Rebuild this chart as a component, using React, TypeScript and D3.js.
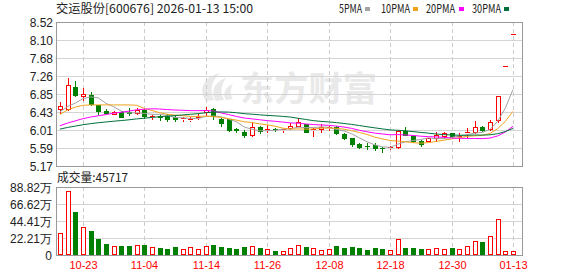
import React from "react";
import * as d3 from "d3";

// ---------- data ----------
const dates = [
  "10-20","10-21","10-22","10-23","10-24","10-27","10-28","10-29","10-30","10-31",
  "11-03","11-04","11-05","11-06","11-07","11-10","11-11","11-12","11-13","11-14",
  "11-17","11-18","11-19","11-20","11-21","11-24","11-25","11-26","11-27","11-28",
  "12-01","12-02","12-03","12-04","12-05","12-08","12-09","12-10","12-11","12-12",
  "12-15","12-16","12-17","12-18","12-19","12-22","12-23","12-24","12-25","12-26",
  "12-29","12-30","12-31","01-05","01-06","01-07","01-08","01-09","01-12","01-13",
];
const opens = [
  6.49,6.50,7.00,6.80,6.82,6.59,6.46,6.39,6.43,6.42,
  6.41,6.48,6.31,6.34,6.33,6.32,6.26,6.25,6.29,6.42,
  6.50,6.26,6.26,6.02,5.96,5.88,6.08,6.00,6.03,6.00,
  6.05,6.11,6.14,6.00,6.02,6.05,6.08,5.91,5.81,5.68,
  5.64,5.66,5.59,5.60,5.62,5.98,5.86,5.76,5.75,5.81,
  5.87,5.93,5.84,5.93,5.95,6.08,6.02,6.23,7.49,8.24,
];
const highs = [
  6.65,7.21,7.15,6.98,6.90,6.60,6.49,6.44,6.45,6.53,
  6.53,6.49,6.36,6.37,6.37,6.36,6.30,6.30,6.37,6.55,
  6.51,6.29,6.27,6.06,6.00,6.20,6.09,6.12,6.06,6.04,
  6.16,6.28,6.15,6.05,6.14,6.11,6.09,5.93,5.83,5.70,
  5.70,5.70,5.62,5.64,6.00,6.08,5.87,5.77,5.83,5.95,
  5.95,5.94,5.93,6.05,6.22,6.10,6.24,6.81,7.49,8.24,
];
const lows = [
  6.40,6.47,6.80,6.71,6.59,6.38,6.38,6.38,6.30,6.36,
  6.37,6.29,6.26,6.24,6.21,6.22,6.22,6.22,6.26,6.36,
  6.26,6.11,5.99,5.97,5.84,5.87,5.94,5.95,5.99,5.97,
  6.04,6.09,5.96,5.86,5.97,6.01,5.92,5.80,5.64,5.58,
  5.57,5.55,5.49,5.57,5.60,5.88,5.72,5.64,5.74,5.74,
  5.85,5.84,5.76,5.85,5.94,5.99,6.00,6.20,7.49,8.24,
];
const closes = [
  6.57,7.05,6.82,6.84,6.61,6.46,6.41,6.43,6.32,6.40,
  6.48,6.33,6.33,6.32,6.26,6.26,6.28,6.27,6.31,6.48,
  6.33,6.17,6.01,6.00,5.88,6.07,5.99,6.02,6.02,6.03,
  6.10,6.20,5.97,6.03,6.08,6.08,5.94,5.81,5.68,5.61,
  5.63,5.58,5.58,5.62,5.98,5.90,5.74,5.69,5.81,5.88,
  5.93,5.86,5.86,5.96,6.07,6.01,6.19,6.81,7.49,8.24,
];
// closes of the 29 sessions before the window, estimated from where the MA lines start
const closesBeforeWindow = [
  5.86,5.90,5.88,5.85,5.83,5.87,5.89,5.86,5.88,5.85,
  5.83,5.80,5.82,5.85,5.86,5.84,5.83,5.87,5.86,5.88,
  6.05,6.12,6.44,6.51,6.46,6.41,6.43,6.32,6.40,
];
const volumes = [
  283000,836000,566000,366000,313000,209000,144000,118000,118000,118000,
  126000,130000,104000,91000,78000,100000,78000,100000,78000,113000,
  130000,109000,91000,83000,104000,118000,91000,78000,52000,48000,
  87000,130000,109000,87000,61000,74000,122000,91000,104000,91000,
  61000,91000,83000,61000,205000,91000,91000,78000,74000,87000,
  74000,91000,74000,122000,187000,165000,244000,466000,56000,45717,
];
const priceTickLabels = ["5.17","5.59","6.01","6.43","6.85","7.26","7.68","8.10","8.52"];
const volumeTicks = [0, 222050, 444100, 666150, 888200];
const volumeTickLabels = ["0","22.21万","44.41万","66.62万","88.82万"];
const axisDates = ["10-23","11-04","11-14","11-26","12-08","12-18","12-30","01-13"];
const maPeriods = [5, 10, 20, 30];
const maNames = ["5PMA", "10PMA", "20PMA", "30PMA"];
const maColors = ["#a3a3a3", "#f2a31c", "#ff00ff", "#00703c"];
const titleText = "交运股份[600676] 2026-01-13 15:00";
const volumeTitle = "成交量:45717";

const RED = "#ff0000";
const GREEN = "#008000";

export default function App() {
  const left = 56, right = 522;
  const pTop = 22, pBot = 166;
  const vTop = 187, vBot = 255;
  const step = 7.68;
  const n = dates.length;

  const x = d3.scaleBand<string>().domain(dates).range([left, left + step * n]);
  const cx = (i: number) => (x(dates[i]) as number) + x.bandwidth() / 2;
  const yP = d3.scaleLinear().domain([5.17, 8.52]).range([pBot, pTop]);
  const yV = d3.scaleLinear().domain([0, 888200]).range([vBot, vTop]);

  const allCloses = [...closesBeforeWindow, ...closes];
  const off = closesBeforeWindow.length;
  const maSeries = maPeriods.map((p) =>
    closes.map((_, i) => d3.mean(allCloses.slice(off + i - p + 1, off + i + 1)) as number)
  );
  const line = d3
    .line<number>()
    .x((_, i) => cx(i))
    .y((d) => yP(d));

  const sansCJK = "'Noto Sans CJK SC', 'Noto Sans', sans-serif";
  const sans = "'Liberation Sans', Arial, sans-serif";
  const isUp = (i: number) => closes[i] >= opens[i];

  const candles = dates.map((d, i) => {
    const c = Math.round(cx(i));
    const col = isUp(i) ? RED : GREEN;
    const yH = Math.round(yP(highs[i]));
    const yL = Math.round(yP(lows[i]));
    const yTopB = Math.round(yP(Math.max(opens[i], closes[i])));
    const yBotB = Math.round(yP(Math.min(opens[i], closes[i])));
    const wx = c + 0.5;
    if (highs[i] === lows[i]) {
      return <line key={d} x1={c - 2} x2={c + 3} y1={yH + 0.5} y2={yH + 0.5} stroke={col} strokeWidth={1} />;
    }
    const h = yBotB - yTopB;
    if (isUp(i)) {
      return (
        <g key={d}>
          <line x1={wx} x2={wx} y1={yH} y2={yTopB} stroke={col} />
          <line x1={wx} x2={wx} y1={yBotB + 1} y2={yL + 1} stroke={col} />
          {h >= 2 ? (
            <rect x={c - 1.5} y={yTopB + 0.5} width={4} height={h} fill="#fff" stroke={col} />
          ) : (
            <line x1={c - 2} x2={c + 3} y1={yTopB + 0.5} y2={yTopB + 0.5} stroke={col} />
          )}
        </g>
      );
    }
    return (
      <g key={d}>
        <line x1={wx} x2={wx} y1={yH} y2={yL + 1} stroke={col} />
        <rect x={c - 2} y={yTopB} width={5} height={Math.max(1, h + 1)} fill={col} />
      </g>
    );
  });

  const volBars = dates.map((d, i) => {
    const c = Math.round(cx(i));
    const yT = Math.round(yV(volumes[i]));
    const h = vBot - yT;
    if (isUp(i)) {
      return <rect key={d} x={c - 1.5} y={yT + 0.5} width={4} height={Math.max(0, h - 1)} fill="#fff" stroke={RED} />;
    }
    return <rect key={d} x={c - 2} y={yT} width={5} height={h} fill={GREEN} />;
  });

  const gridIdx = axisDates.map((d) => dates.indexOf(d));
  const legendX = [339, 381, 426, 472];
  const legendW = [23, 29, 29, 29];
  const legendSq = [365, 413, 459, 504];

  return (
    <svg
      width={578}
      height={276}
      style={{ position: "absolute", left: 0, top: 0, background: "#fff" }}
      shapeRendering="crispEdges"
    >
      <rect x={0} y={0} width={578} height={276} fill="#fff" />
      {/* title & legend */}
      <text x={56} y={13} fontFamily={sansCJK} fontSize={12} fill="#222" textLength={197} lengthAdjust="spacingAndGlyphs">
        {titleText}
      </text>
      {maNames.map((nm, k) => (
        <g key={nm}>
          <text x={legendX[k]} y={13} fontFamily={sansCJK} fontSize={12} fill="#222" textLength={legendW[k]} lengthAdjust="spacingAndGlyphs">
            {nm}
          </text>
          <rect x={legendSq[k]} y={7} width={5} height={4} fill={maColors[k]} />
        </g>
      ))}

      {/* watermark */}
      <g fill="#e9e9e9" shapeRendering="auto">
        <path d="M206,101 C198,90 203,77 220,73 C212,80 209,90 214,100 Z" />
        <path d="M216,101 C210,92 214,82 226,78 C221,85 220,93 224,100 Z" />
        <path d="M226,100 C222,94 225,87 233,84 C230,89 230,95 233,99 Z" />
        <text x={240} y={101} fontFamily={sansCJK} fontWeight={700} fontSize={34} textLength={137} lengthAdjust="spacingAndGlyphs">
          东方财富
        </text>
      </g>

      {/* price grid */}
      {priceTickLabels.map((t) => {
        const yy = Math.round(yP(+t)) + 0.5;
        return (
          <g key={t}>
            <line x1={left} x2={right} y1={yy} y2={yy} stroke="#d4d4d4" />
            <text x={53} y={yy + 4} textAnchor="end" fontFamily={sans} fontSize={12} fill="#222">
              {t}
            </text>
          </g>
        );
      })}
      {/* volume grid */}
      {volumeTicks.map((v, k) => {
        const yy = Math.round(yV(v)) + 0.5;
        return (
          <g key={v}>
            <line x1={left} x2={right} y1={yy} y2={yy} stroke="#d4d4d4" />
            <text x={52} y={yy + 4} textAnchor="end" fontFamily={sans} fontSize={12} fill="#222">
              {volumeTickLabels[k]}
            </text>
          </g>
        );
      })}
      {/* vertical dashed date grid + labels */}
      {gridIdx.map((i, k) => {
        const xx = Math.round(cx(i)) + 0.5;
        return (
          <g key={axisDates[k]}>
            <line x1={xx} x2={xx} y1={pTop} y2={pBot} stroke="#cccccc" strokeDasharray="4,3" />
            <line x1={xx} x2={xx} y1={vTop} y2={vBot} stroke="#cccccc" strokeDasharray="4,3" />
            <text x={xx} y={269} textAnchor="middle" fontFamily={sans} fontSize={11} fill={RED}>
              {axisDates[k]}
            </text>
          </g>
        );
      })}

      {/* candles */}
      {candles}
      {/* moving averages */}
      <g shapeRendering="auto">
        {maSeries.map((s, k) => (
          <path key={maNames[k]} d={line(s) || ""} fill="none" stroke={maColors[k]} strokeWidth={1} />
        ))}
      </g>

      {/* volume */}
      <text x={57} y={182} fontFamily={sansCJK} fontSize={12} fill="#222" textLength={71} lengthAdjust="spacingAndGlyphs">
        {volumeTitle}
      </text>
      {volBars}

      {/* borders */}
      <rect x={left + 0.5} y={pTop + 0.5} width={right - left} height={pBot - pTop} fill="none" stroke="#999" />
      <rect x={left + 0.5} y={vTop + 0.5} width={right - left} height={vBot - vTop} fill="none" stroke="#999" />
    </svg>
  );
}
